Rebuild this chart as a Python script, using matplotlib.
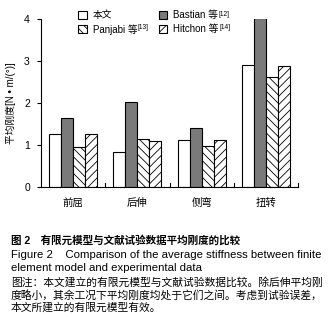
import matplotlib
matplotlib.use("Agg")
import matplotlib.pyplot as plt
import numpy as np

plt.rcParams['font.family'] = ['Liberation Sans', 'Noto Sans CJK SC', 'DejaVu Sans']
plt.rcParams['hatch.linewidth'] = 0.6

categories = ['前屈', '后伸', '侧弯', '扭转']
series_names = ['本文', 'Bastian 等', 'Panjabi 等', 'Hitchon 等']
series_refs = ['', '[12]', '[13]', '[14]']
benwen = [1.27, 0.84, 1.12, 2.90]
bastian = [1.65, 2.02, 1.40, 4.02]
panjabi = [0.95, 1.15, 0.98, 2.62]
hitchon = [1.27, 1.10, 1.12, 2.88]
yticks = [0, 1, 2, 3, 4]

series = [benwen, bastian, panjabi, hitchon]
faces = ['white', '#7a7a7a', 'white', 'white']
hatches = [None, None, '\\\\\\\\', '////']

fig = plt.figure(figsize=(3.34, 3.17), dpi=100)
ax = fig.add_axes([41/334, 1-187/317, 257/334, 168/317])

x = np.arange(len(categories))
w = 0.1875
for i, (vals, fc, h) in enumerate(zip(series, faces, hatches)):
    ax.bar(x + (i - 1.5) * w, vals, width=w, facecolor=fc, edgecolor='black',
           linewidth=0.8, hatch=h, label=series_names[i])

ax.set_xlim(-0.5, 3.5)
ax.set_ylim(0, 4)
ax.set_yticks(yticks)
ax.set_yticklabels([str(v) for v in yticks], fontsize=7.5)
ax.tick_params(axis='y', direction='out', length=3, width=0.8, pad=5)
ax.set_xticks(x)
ax.set_xticklabels(categories, fontsize=7.5)
ax.tick_params(axis='x', length=0, pad=8)
for b in [0.5, 1.5, 2.5, 3.5]:
    ax.plot([b, b], [0, 0.1], color='black', lw=0.8, clip_on=False)
ax.spines['top'].set_visible(False)
ax.spines['right'].set_visible(False)
ax.spines['left'].set_linewidth(0.8)
ax.spines['bottom'].set_linewidth(0.8)
ax.set_ylabel('平均刚度[N • m/(°)]', fontsize=7, labelpad=6)

handles, labels = ax.get_legend_handles_labels()
order = [0, 2, 1, 3]
leg = ax.legend([handles[k] for k in order], [labels[k] for k in order], ncol=2,
                frameon=False, fontsize=7, loc='upper left',
                bbox_to_anchor=(0.11, 1.105), handlelength=0.9, handleheight=0.9,
                handletextpad=0.6, columnspacing=2.2, labelspacing=0.4)

fig.canvas.draw()
renderer = fig.canvas.get_renderer()
for t, k in zip(leg.get_texts(), order):
    ref = series_refs[k]
    if ref:
        bb = t.get_window_extent(renderer)
        fig.text((bb.x1 + 0.5) / fig.bbox.width, (bb.y1 - 0.5) / fig.bbox.height, ref,
                 fontsize=4.8, ha='left', va='top')

fig.text(11/334, 1-240/317, '图 2　有限元模型与文献试验数据平均刚度的比较', fontsize=7.6,
         fontweight='bold', va='center', ha='left')
fig.text(11/334, 1-255/317, 'Figure 2    Comparison of the average stiffness between finite',
         fontsize=8.2, va='center', ha='left')
fig.text(11/334, 1-268/317, 'element model and experimental data', fontsize=8.2,
         va='center', ha='left')
fig.text(11/334, 1-282/317, '图注：本文建立的有限元模型与文献试验数据比较。除后伸平均刚',
         fontsize=7.75, va='center', ha='left')
fig.text(11/334, 1-295/317, '度略小，其余工况下平均刚度均处于它们之间。考虑到试验误差，',
         fontsize=7.75, va='center', ha='left')
fig.text(11/334, 1-308/317, '本文所建立的有限元模型有效。', fontsize=7.75, va='center', ha='left')

fig.savefig('out.png', dpi=100)
